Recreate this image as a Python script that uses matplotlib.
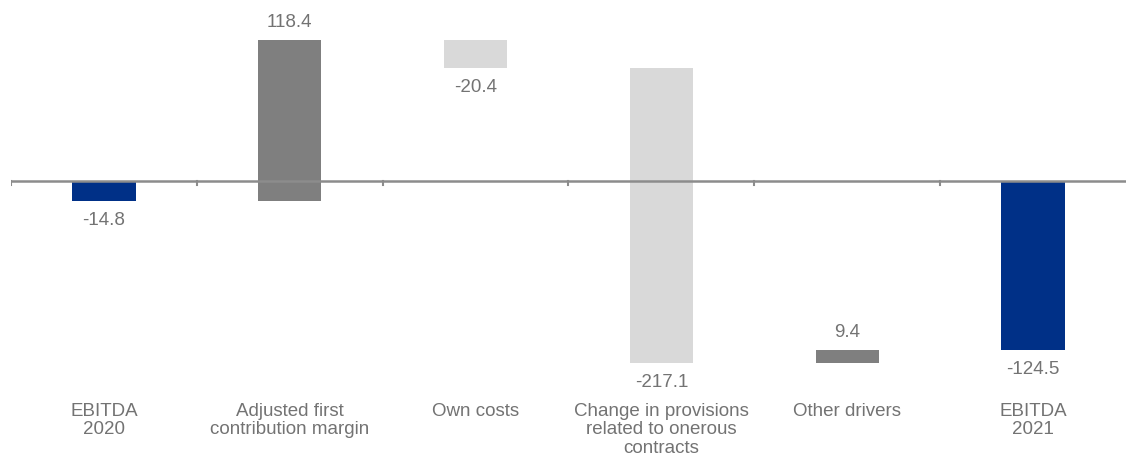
import numpy as np
import matplotlib.pyplot as plt

# ── Data ──────────────────────────────────────────────────────────────────────

categories = ["EBITDA\n2020", "Adjusted first\ncontribution margin", "Own costs",
              "Change in provisions\nrelated to onerous\ncontracts", "Other drivers",
              "EBITDA\n2021"]
values = [-14.8, 118.4, -20.4, -217.1, 9.4, -124.5]
is_total = [True, False, False, False, False, True]

NAVY = "#003087"
DARK = "#7f7f7f"
LIGHT = "#d9d9d9"
TEXT = "#737373"

# ── Waterfall geometry ────────────────────────────────────────────────────────

bottoms, heights, colors = [], [], []
running = 0.0
for v, tot in zip(values, is_total):
    if tot:
        bottoms.append(0.0)
        heights.append(v)
        colors.append(NAVY)
        running = v
    else:
        bottoms.append(running)
        heights.append(v)
        colors.append(DARK if v > 0 else LIGHT)
        running += v

x = np.arange(len(categories))

plt.rcParams["font.family"] = ["Liberation Sans", "DejaVu Sans"]

fig = plt.figure(figsize=(11.26, 4.61), dpi=100)
ax = fig.add_axes([11 / 1126, 0, 1115 / 1126, 1])
ax.set_xlim(-0.5, len(categories) - 0.5)
ax.set_ylim(-(461 - 181) / 1.36, 181 / 1.36)
ax.axis("off")

ax.bar(x, heights, bottom=bottoms, width=0.34, color=colors, zorder=2)

# zero line + boundary ticks
ax.axhline(0, color="#8c8c8c", lw=1.8, zorder=3)
for b in np.arange(len(categories)) - 0.5:
    ax.plot([b, b], [0, -3.2], color="#8c8c8c", lw=1.5, zorder=3)

FS = 13.5
for xi, b, h in zip(x, bottoms, heights):
    end = b + h
    if h >= 0:
        ax.annotate(f"{h:.1f}", (xi, end), xytext=(0, 6.5), textcoords="offset points",
                    ha="center", va="bottom", fontsize=FS, color=TEXT)
    else:
        ax.annotate(f"{h:.1f}", (xi, end), xytext=(0, -8), textcoords="offset points",
                    ha="center", va="top", fontsize=FS, color=TEXT)

for xi, lab in zip(x, categories):
    ax.text(xi, 1 - 402.5 / 461, lab, transform=ax.get_xaxis_transform(),
            ha="center", va="top", fontsize=FS, color=TEXT, linespacing=1.14)

fig.savefig("out.png", dpi=100)
